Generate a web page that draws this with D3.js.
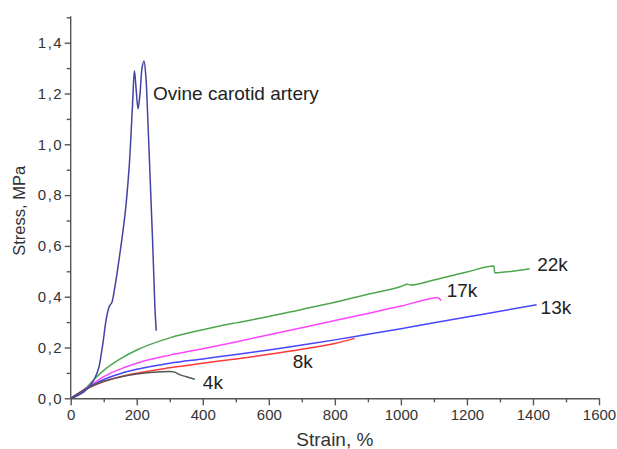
<!DOCTYPE html>
<html>
<head>
<meta charset="utf-8">
<script src="https://cdn.jsdelivr.net/npm/d3@7"></script>
<style>
  html, body { margin: 0; padding: 0; background: #fff; }
  svg { display: block; font-family: Arial, "Liberation Sans", Helvetica, sans-serif; }
</style>
</head>
<body>
<svg id="chart" width="617" height="449"></svg>
<script>
// ---- data (strain %, stress MPa) ----
const arteryCurve = [[0,0],[20,0.01],[40,0.025],[60,0.052],[75,0.085],[85,0.12],[92,0.17],[99,0.23],[105,0.29],[112,0.34],[118,0.365],[124,0.375],[134,0.44],[149,0.57],[165,0.73],[177,0.91],[187,1.15],[193,1.29],[198,1.22],[204,1.14],[210,1.2],[216,1.3],[222,1.328],[228,1.26],[232,1.15],[240,0.886],[248,0.62],[255,0.36],[259,0.266]];
const curve22k = [[0,0],[50,0.045],[75,0.08],[100,0.11],[150,0.155],[200,0.19],[300,0.238],[400,0.27],[500,0.297],[600,0.322],[700,0.35],[800,0.378],[900,0.41],[1000,0.44],[1020,0.449],[1030,0.446],[1100,0.466],[1200,0.497],[1282,0.521],[1284,0.494],[1300,0.495],[1390,0.51]];
const curve17k = [[0,0],[50,0.042],[100,0.085],[150,0.115],[200,0.138],[300,0.17],[400,0.195],[500,0.222],[600,0.25],[700,0.278],[800,0.306],[900,0.334],[1000,0.363],[1100,0.395],[1110,0.397],[1122,0.385]];
const curve13k = [[0,0],[50,0.04],[100,0.074],[150,0.097],[200,0.114],[300,0.138],[400,0.155],[500,0.172],[600,0.19],[700,0.21],[800,0.23],[900,0.252],[1000,0.274],[1100,0.297],[1200,0.32],[1300,0.343],[1411,0.368]];
const curve8k = [[0,0],[50,0.038],[100,0.066],[150,0.085],[200,0.099],[300,0.12],[400,0.138],[500,0.155],[600,0.173],[700,0.193],[800,0.216],[860,0.236]];
const curve4k = [[0,0],[50,0.039],[100,0.067],[150,0.084],[200,0.096],[250,0.103],[300,0.106],[315,0.103],[330,0.093],[350,0.085],[376,0.075]];

const xTicks = [0,200,400,600,800,1000,1200,1400,1600];
const yTicks = [0,0.2,0.4,0.6,0.8,1.0,1.2,1.4];
const xMinor = [100,300,500,700,900,1100,1300,1500];
const yMinor = [0.1,0.3,0.5,0.7,0.9,1.1,1.3,1.5];

const seriesList = [
  {name:"22k", data: curve22k, color:"#4ea64e"},
  {name:"17k", data: curve17k, color:"#ff44ff"},
  {name:"13k", data: curve13k, color:"#4646ff"},
  {name:"8k", data: curve8k, color:"#ff3838"},
  {name:"4k", data: curve4k, color:"#555555"},
  {name:"Ovine carotid artery", data: arteryCurve, color:"#4343a3"}
];
const labels = [
  {text:"Ovine carotid artery", x:222, y:1.325, dx:9, dy:38},
  {text:"22k", x:1390, y:0.51, dx:7.5, dy:2},
  {text:"17k", x:1122, y:0.385, dx:5.5, dy:-4},
  {text:"13k", x:1411, y:0.368, dx:4, dy:9},
  {text:"8k", x:860, y:0.245, dx:-62, dy:32},
  {text:"4k", x:376, y:0.075, dx:8, dy:10}
];

// ---- layout ----
const svg = d3.select("#chart");
const x = d3.scaleLinear().domain([0,1600]).range([70.7,599]);
const y = d3.scaleLinear().domain([0,1.5]).range([398.3,17.3]);
const axisColor = "#555";
const fmt = d => d3.format(".1f")(d).replace(".", ",");

// curves
const line = d3.line().x(d => x(d[0])).y(d => y(d[1])).curve(d3.curveMonotoneX);
const lineArtery = d3.line().x(d => x(d[0])).y(d => y(d[1])).curve(d3.curveCatmullRom.alpha(0.5));
svg.append("g").selectAll("path").data(seriesList).join("path")
  .attr("d", s => (s.data === arteryCurve ? lineArtery : line)(s.data))
  .attr("fill","none").attr("stroke", s => s.color).attr("stroke-width",1.5)
  .attr("stroke-linejoin","round");

// axes
const gx = svg.append("g").attr("transform",`translate(0,${y(0)})`);
gx.call(d3.axisBottom(x).tickValues(xTicks).tickSize(7).tickSizeOuter(0).tickPadding(4).tickFormat(d3.format("d")));
const gxm = svg.append("g").attr("transform",`translate(0,${y(0)})`);
gxm.call(d3.axisBottom(x).tickValues(xMinor).tickSize(4).tickSizeOuter(0).tickFormat(""));
gxm.select(".domain").remove();

const gy = svg.append("g").attr("transform",`translate(${x(0)},0)`);
gy.call(d3.axisLeft(y).tickValues(yTicks).tickSize(6).tickSizeOuter(0).tickPadding(3).tickFormat(fmt));
const gym = svg.append("g").attr("transform",`translate(${x(0)},0)`);
gym.call(d3.axisLeft(y).tickValues(yMinor).tickSize(4).tickSizeOuter(0).tickFormat(""));
gym.select(".domain").remove();
gy.select(".domain").attr("d", `M0,${y(0)}V${y(1.5)-1}`);

svg.selectAll(".domain, .tick line").attr("stroke", axisColor).attr("stroke-width",1.4);
gx.selectAll("text").attr("font-size",15).attr("fill","#333").attr("font-family","Arial, 'Liberation Sans', sans-serif");
gy.selectAll("text").attr("font-size",15).attr("fill","#333").attr("letter-spacing","1.5px").attr("dx","1.5").attr("font-family","Arial, 'Liberation Sans', sans-serif");

// axis titles
svg.append("text").attr("x", (x(0)+x(1600))/2).attr("y", 446).attr("text-anchor","middle")
  .attr("font-size",19).attr("fill","#333").text("Strain, %");
svg.append("text").attr("transform",`translate(25,${(y(0)+y(1.5))/2+3}) rotate(-90)`).attr("text-anchor","middle")
  .attr("font-size",16.5).attr("fill","#333").text("Stress, MPa");

// annotations
svg.append("g").selectAll("text").data(labels).join("text")
  .attr("x", d => x(d.x) + d.dx).attr("y", d => y(d.y) + d.dy)
  .attr("font-size",19).attr("fill","#222").text(d => d.text);
</script>
</body>
</html>
